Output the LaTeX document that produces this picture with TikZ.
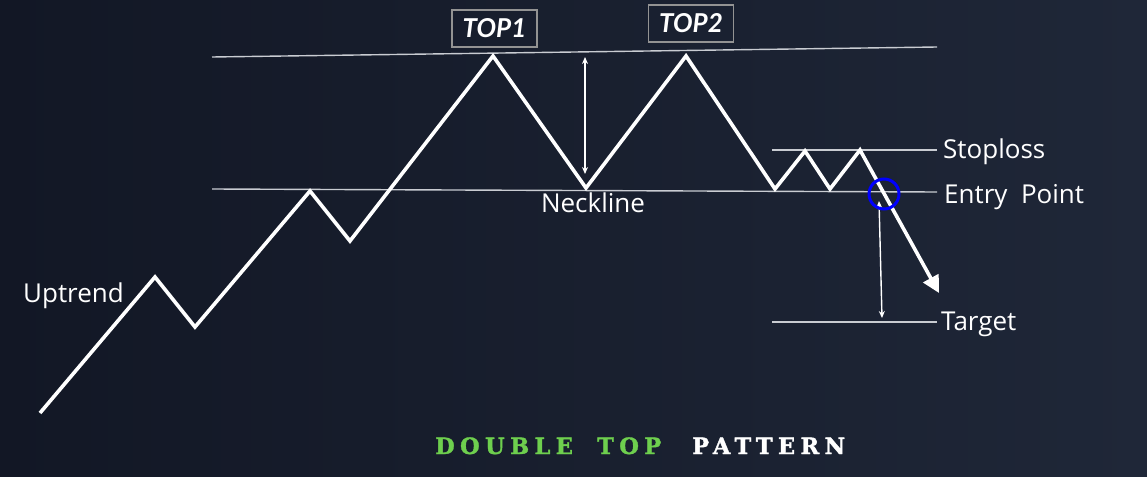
\documentclass[tikz,border=0pt]{standalone}
\usepackage{fontspec}
\setmainfont{Open Sans}
\newfontfamily\topfont{Lato}
\newfontfamily\titlefont[LetterSpace=24,FakeBold=1.5]{DejaVu Serif Bold}
\usetikzlibrary{arrows.meta}
\definecolor{bgL}{HTML}{121725}
\definecolor{bgR}{HTML}{1F2738}
\definecolor{ttlgreen}{HTML}{6ECF4E}
\definecolor{guide}{HTML}{C9CCD2}
\begin{document}
\begin{tikzpicture}[x=1pt,y=-1pt,
  guideline/.style={guide,line width=1.4pt},
  price/.style={white,line width=3.6pt,line join=miter,line cap=butt},
  measure/.style={white,line width=1.4pt,{Stealth[length=7pt,width=6pt]}-{Stealth[length=7pt,width=6pt]}},
  lbl/.style={text=white,font=\fontsize{26}{28}\selectfont,inner sep=0pt},
  topbox/.style={draw=gray!85,line width=1.6pt,text=white,font=\topfont\bfseries\itshape\fontsize{26}{28}\selectfont,minimum width=85pt,minimum height=37pt,inner sep=0pt},
  ttl/.style={font=\titlefont\fontsize{22.5}{24}\selectfont,inner sep=0pt}]
\shade[left color=bgL,right color=bgR] (0,0) rectangle (1147,476);
\useasboundingbox (0,0) rectangle (1147,476);
% guide lines
\coordinate (topL) at (212,57);
\coordinate (topR) at (937,47);
\coordinate (neckL) at (212,189);
\coordinate (neckR) at (937,192);
\coordinate (slL) at (772,150);
\coordinate (slR) at (937,150);
\coordinate (tgL) at (772,322);
\coordinate (tgR) at (937,322);
\draw[guideline] (topL) -- (topR);
\draw[guideline] (neckL) -- (neckR);
\draw[guideline] (slL) -- (slR);
\draw[guideline] (tgL) -- (tgR);
% price path
\coordinate (p0) at (40,413);
\coordinate (p1) at (155,277);
\coordinate (p2) at (195,327);
\coordinate (p3) at (310,191);
\coordinate (p4) at (350,241);
\coordinate (p5) at (493,56);
\coordinate (p6) at (586,188);
\coordinate (p7) at (686,56);
\coordinate (p8) at (775,189);
\coordinate (p9) at (805,151);
\coordinate (p10) at (830,189);
\coordinate (p11) at (860,150);
\coordinate (p12) at (939,293);
\draw[price,-{Triangle[length=17pt,width=17pt]}] (p0) -- (p1) -- (p2) -- (p3) -- (p4) -- (p5) -- (p6) -- (p7) -- (p8) -- (p9) -- (p10) -- (p11) -- (p12);
% measuring arrows
\coordinate (m1a) at (585,57);
\coordinate (m1b) at (585,174);
\coordinate (m2a) at (879,201);
\coordinate (m2b) at (882,318);
\draw[measure] (m1a) -- (m1b);
\draw[measure] (m2a) -- (m2b);
% entry circle
\node[draw=blue,line width=3pt,circle,minimum size=30pt,inner sep=0pt] (entry) at (884,194) {};
% labels
\node[topbox] (top1) at (494.5,28.5) {TOP1};
\node[topbox] (top2) at (691,23.5) {TOP2};
\node[lbl,anchor=base west] (stop) at (943,158) {Stoploss};
\node[lbl,anchor=base west] (entrylbl) at (944,203) {Entry\ \ Point};
\node[lbl,anchor=base west] (target) at (941,330) {Target};
\node[lbl,anchor=base] (neck) at (593,212) {Neckline};
\node[lbl,anchor=base west] (up) at (23,302) {Uptrend};
% title
\node[ttl,text=ttlgreen,anchor=base west] (t1) at (435,454) {DOUBLE};
\node[ttl,text=ttlgreen,anchor=base west] (t2) at (597,454) {TOP};
\node[ttl,text=white,anchor=base west] (t3) at (692,454) {PATTERN};
\end{tikzpicture}
\end{document}
